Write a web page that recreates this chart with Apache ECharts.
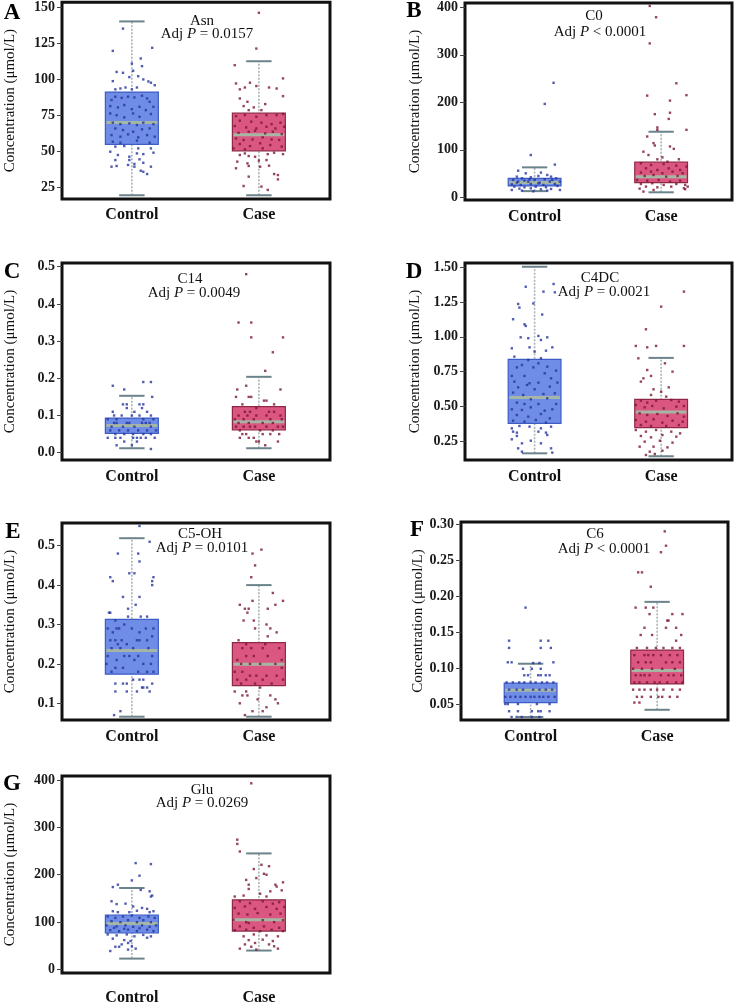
<!DOCTYPE html>
<html><head><meta charset="utf-8">
<script src="https://cdn.jsdelivr.net/npm/echarts@6/dist/echarts.min.js"></script>
<style>html,body{margin:0;padding:0;background:#fff}#c{width:735px;height:1006px}</style>
</head><body><div id="c"></div>
<script>
// ---------- DATA ----------
const categories = ['Control', 'Case'];
const panelLetters = ['A', 'B', 'C', 'D', 'E', 'F', 'G'];
const analytes = ['Asn', 'C0', 'C14', 'C4DC', 'C5-OH', 'C6', 'Glu'];
const pRelations = ['=', '<', '=', '=', '=', '<', '='];
const pValues = ['0.0157', '0.0001', '0.0049', '0.0021', '0.0101', '0.0001', '0.0269'];
const yAxisTitle = 'Concentration (μmol/L)';

const asnTicks = [25, 50, 75, 100, 125, 150];
const c0Ticks = [0, 100, 200, 300, 400];
const c14Ticks = [0, 0.1, 0.2, 0.3, 0.4, 0.5];
const c4dcTicks = [0.25, 0.5, 0.75, 1.0, 1.25, 1.5];
const c5ohTicks = [0.1, 0.2, 0.3, 0.4, 0.5];
const c6Ticks = [0.05, 0.10, 0.15, 0.20, 0.25, 0.30];
const gluTicks = [0, 100, 200, 300, 400];

// box statistics: [min, Q1, median, Q3, max]
const asnControlBox = [19.5, 54.8, 70, 91, 140];
const asnCaseBox = [19.5, 50.3, 61.5, 76.4, 112.4];
const c0ControlBox = [13, 24, 31, 40, 63];
const c0CaseBox = [10.5, 31, 43, 74, 138];
const c14ControlBox = [0.012, 0.052, 0.073, 0.093, 0.153];
const c14CaseBox = [0.012, 0.061, 0.083, 0.124, 0.204];
const c4dcControlBox = [0.161, 0.377, 0.562, 0.838, 1.504];
const c4dcCaseBox = [0.14, 0.346, 0.459, 0.55, 0.848];
const c5ohControlBox = [0.066, 0.174, 0.234, 0.313, 0.519];
const c5ohCaseBox = [0.066, 0.145, 0.199, 0.254, 0.4];
const c6ControlBox = [0.032, 0.052, 0.069, 0.079, 0.106];
const c6CaseBox = [0.042, 0.078, 0.0965, 0.125, 0.192];
const gluControlBox = [23, 77, 97, 115, 172];
const gluCaseBox = [40, 81, 105, 147, 245];

// individual points: [jitter offset from the group, value]
const asnControlPts = [[-0.07,135],[-0.15,119.6],[0.16,121.7],[-0.12,105],[-0.07,104.4],[0.01,105.8],[0,110.8],[0.07,114.3],[0.08,109],[0.05,102],[-0.02,101.4],[-0.15,98.6],[0.09,99.8],[0.13,98.4],[0.15,97.5],[0.18,95.8],[-0.13,92.9],[-0.09,93.5],[-0.05,94.2],[0,92.9],[0.04,94.2],
[-0.16,85.5],[-0.13,87.8],[-0.08,87],[-0.03,87.8],[0.02,87.3],[0.08,88.5],[0.12,86.6],[0.14,84.3],[-0.17,81.3],[-0.11,80.4],[-0.06,82],[0,79.2],[0.06,80.8],[0.11,78.5],[0.17,80.8],[-0.17,76.2],[-0.12,75],[-0.06,73.5],[0.01,76.2],[0.06,73.9],[0.15,75.8],[-0.15,69.8],[-0.09,68.8],[-0.02,69.3],[0.04,68.2],[0.09,69.8],[0.17,68.8],[-0.13,65.8],[-0.07,64.7],[0.01,63.5],[0.08,65.2],[0.14,65.8],[-0.16,61.2],[-0.09,60.1],[-0.03,61.7],[0.05,59.6],[0.12,61.2],[0.18,60.1],[-0.15,56.6],[-0.09,55.9],[0.04,57.3],[0.14,55.9],
[-0.17,49.7],[-0.13,53.2],[-0.06,53.6],[0.05,52],[0.15,52],[0.17,49],[-0.11,47.4],[-0.02,46.2],[0.04,48.5],[0.09,48],[-0.13,43.9],[-0.02,43.9],[0.06,44.4],[-0.16,39.3],[-0.12,39.8],[-0.03,40.5],[0.02,41.2],[0.02,39.3],[0.09,42],[0.15,39.3],[0.07,36.5],[0.09,35.8],[0.12,34.2]];
const asnCasePts = [[0,146],[-0.02,121.2],[-0.19,109.7],[0.19,100.5],[-0.18,97],[-0.07,97.5],[-0.11,94.2],[-0.02,95.2],[0.08,94.2],[0.14,93.5],[-0.15,92.9],[0.19,88.2],[-0.15,86.6],[-0.09,84.3],[-0.12,81.3],[-0.04,80.4],[0.05,82.7],[-0.08,78.5],[0.02,78.5],
[-0.18,74.4],[-0.11,75.1],[-0.02,73.9],[0.06,75.1],[0.14,75.1],[0.19,75.8],[-0.15,71.2],[-0.06,70.5],[0.02,69.8],[0.1,68.8],[0.17,69.8],[-0.19,67.5],[-0.1,66.5],[-0.02,65.8],[0.06,67],[0.13,65.8],[0.2,67],[-0.16,62.8],[-0.08,63.5],[-0.03,64.2],[0.05,62.4],[0.11,63.5],[0.18,61.9],[-0.18,58.9],[-0.12,57.8],[-0.05,58.2],[0.03,59.6],[0.1,58.2],[0.16,57.8],[-0.15,55],[-0.07,53.6],[0.01,55.5],[0.09,54.3],[0.18,53.2],[-0.2,52],[-0.11,51.3],[0.03,52],
[-0.11,48.5],[-0.08,46.7],[-0.15,47.4],[0.07,48],[0.12,49],[0.19,48],[-0.03,46.2],[-0.17,42.8],[0,43.5],[0.06,43.9],[-0.09,41.6],[-0.08,39.8],[-0.18,38.2],[0.01,39.3],[0.08,40],[0.12,34.2],[0.15,33.5],[0.15,30.5],[-0.08,32.4],[0.02,25.5],[0.07,23.2],[-0.12,25.9]];

const c0ControlPts = [[0.15,241],[0.08,196.5],[-0.03,89],[0.16,68.8],[-0.13,56],[-0.07,50.5],[0.05,52],[0.1,47],[0.03,44.9],[-0.14,43.5],[-0.1,40],[-0.03,42.1],[0.13,43.5],[0.17,40],[-0.17,36.5],[-0.08,35.1],[0,36.5],[0.08,37.9],[0.14,36.5],[-0.14,30.9],[-0.05,33],[0.04,30.9],[0.12,33],[0.2,33],[-0.18,27.4],[-0.11,26],[-0.03,28.1],[0.07,26],[0.16,28.1],[-0.16,22.5],[-0.08,21.1],[0.01,22.5],[0.09,21.1],[0.18,23.9],[-0.12,18.2],[-0.03,18.9],[0.05,16.8],[0.13,17.5],[-0.18,15.4],[-0.1,14],[-0.01,12.6],[0.1,14],[0.2,15.4],[0.03,29.5],[-0.13,33],[-0.04,37.9]];
const c0CasePts = [[-0.09,402.8],[-0.04,379],[-0.09,324],[0.12,240],[-0.11,214],[0.2,215],[0.07,203.5],[0.07,178],[-0.05,175],[0.06,165],[-0.03,147],[-0.03,142],[0.2,142],[-0.11,128],[-0.06,114],[-0.05,109],[0.07,107],[0.1,102],[-0.14,96],[-0.1,89],[0.01,84],[-0.03,80],[0.05,75],[0.14,80],[-0.16,71.6],[-0.08,68],[0.02,70],[0.12,66.7],[0.2,64.6],[-0.12,61],[-0.03,57.5],[0.06,61],[0.15,57.5],[-0.16,52],[-0.08,54],[0.01,50.5],[0.09,54],[0.17,50.5],[-0.13,45],[-0.06,47],[0.04,43.5],[0.13,45],[-0.19,36.5],[-0.11,35],[-0.02,36.5],[0.07,33],[0.15,35],[-0.16,28],[-0.07,29.5],[0.02,26],[0.12,28],[0.19,26],[-0.12,22.5],[-0.03,21],[0.08,22.5],[0.18,19],[0.21,22.5],[-0.17,18.2],[-0.14,12],[-0.06,15.4],[0.19,17]];

const c14ControlPts = [[-0.15,0.18],[-0.06,0.17],[0.09,0.19],[0.15,0.19],[0.16,0.15],[-0.07,0.13],[-0.04,0.13],[-0.04,0.12],[0.06,0.13],[0.08,0.12],[0.09,0.13],[-0.15,0.11],[0.02,0.11],[0.12,0.11],[-0.08,0.1],[-0.14,0.1],[0,0.1],[0.06,0.1],[0.15,0.1],[-0.19,0.09],[-0.12,0.09],[0.09,0.09],[0.17,0.09],[-0.14,0.08],[-0.12,0.08],[-0.04,0.08],[-0.02,0.08],[0.08,0.08],[0.11,0.08],[0.14,0.08],[-0.16,0.07],[-0.07,0.07],[0.02,0.07],[0.15,0.07],[-0.17,0.06],[-0.1,0.06],[-0.03,0.06],[0.05,0.06],[0.12,0.06],[0.19,0.06],[-0.13,0.05],[-0.06,0.05],[0.01,0.05],[0.09,0.05],[0.15,0.05],[-0.19,0.04],[-0.13,0.04],[-0.09,0.04],[0.01,0.04],[0.04,0.04],[0.07,0.04],[0.11,0.04],[0.18,0.04],[-0.06,0.03],[0.04,0.03],[-0.12,0.02],[0,0.02],[0.15,0.01]];
const c14CasePts = [[-0.1,0.48],[-0.16,0.35],[-0.06,0.35],[-0.06,0.31],[0.19,0.31],[0.11,0.27],[0.05,0.22],[-0.1,0.18],[-0.17,0.17],[0.17,0.17],[-0.06,0.15],[-0.18,0.15],[-0.08,0.15],[0.04,0.14],[0.06,0.14],[0.12,0.13],[-0.13,0.13],[-0.02,0.12],[-0.11,0.11],[-0.07,0.11],[0.08,0.11],[0.12,0.11],[-0.16,0.1],[-0.09,0.1],[-0.02,0.1],[0.06,0.1],[0.17,0.1],[-0.19,0.09],[-0.12,0.09],[-0.04,0.09],[0.09,0.09],[0.18,0.09],[-0.16,0.08],[-0.08,0.08],[0.03,0.08],[0.11,0.08],[-0.18,0.07],[-0.12,0.07],[-0.07,0.07],[-0.03,0.07],[0.06,0.07],[0.15,0.07],[0.19,0.07],[-0.15,0.06],[0.01,0.06],[0.11,0.06],[-0.13,0.05],[-0.1,0.05],[0.03,0.05],[0.09,0.05],[0.16,0.05],[-0.15,0.04],[-0.08,0.04],[-0.04,0.04],[0,0.03],[0.15,0.03],[0.05,0.02],[-0.02,0.03]];

const c4dcControlPts = [[-0.07,1.36],[0.15,1.38],[0.16,1.32],[0.07,1.325],[-0.01,1.24],[-0.13,1.236],[-0.12,1.21],[0.06,1.16],[-0.17,1.126],[-0.08,1.09],[-0.07,1.078],[0.03,1.006],[0.1,0.996],[-0.11,0.996],[-0.05,0.99],[0.05,0.977],[-0.18,0.917],[-0.04,0.924],[0.14,0.924],[0,0.893],[0.09,0.9],[-0.16,0.857],[-0.05,0.833],[0.05,0.845],
[0.03,0.809],[-0.14,0.78],[-0.1,0.797],[-0.01,0.78],[0.1,0.785],[0.17,0.756],[-0.18,0.718],[-0.08,0.718],[0.08,0.737],[0.13,0.701],[-0.16,0.677],[-0.04,0.665],[0.03,0.67],[0.18,0.67],[-0.13,0.636],[-0.06,0.653],[0,0.622],[0.12,0.641],[-0.17,0.598],[-0.09,0.581],[0.07,0.588],[0.16,0.593],[-0.03,0.55],[0.1,0.557],[-0.14,0.526],[-0.08,0.516],[0.03,0.516],[0.17,0.516],[-0.18,0.478],[-0.1,0.473],[-0.03,0.492],[0.08,0.468],[0.14,0.478],[-0.14,0.437],[-0.05,0.425],[0.05,0.444],[0.12,0.413],[-0.17,0.396],[-0.08,0.389],[0.01,0.401],[0.09,0.382],
[-0.18,0.341],[-0.12,0.358],[-0.04,0.353],[0.05,0.341],[0.13,0.353],[-0.17,0.317],[-0.14,0.31],[0.03,0.317],[0.09,0.31],[-0.14,0.286],[0.1,0.293],[-0.18,0.262],[-0.03,0.252],[-0.1,0.233],[0.05,0.233],[-0.13,0.197],[0.13,0.197],[0.14,0.166],[-0.1,0.173]];
const c4dcCasePts = [[0.18,1.325],[0,1.217],[-0.12,1.054],[-0.2,0.934],[-0.11,0.924],[-0.04,0.934],[0.18,0.934],[-0.18,0.845],[0.03,0.809],[-0.11,0.761],[0.09,0.749],[-0.08,0.718],[-0.14,0.701],[0.06,0.636],[-0.06,0.622],[-0.16,0.677],[0,0.605],[-0.08,0.581],
[0.04,0.569],[-0.16,0.54],[-0.11,0.526],[-0.04,0.54],[0.08,0.545],[0.14,0.533],[-0.2,0.509],[-0.13,0.492],[-0.07,0.502],[0.02,0.485],[0.12,0.497],[0.18,0.502],[-0.17,0.449],[-0.11,0.437],[-0.03,0.444],[0.05,0.43],[0.13,0.449],[0.18,0.425],[-0.2,0.401],[-0.12,0.389],[-0.06,0.406],[0.01,0.382],[0.09,0.396],[0.17,0.389],[-0.16,0.365],[-0.08,0.358],[0.04,0.358],[0.14,0.365],
[-0.2,0.329],[-0.12,0.317],[-0.04,0.329],[0.08,0.317],[0.15,0.305],[-0.16,0.286],[-0.08,0.276],[0.01,0.293],[0.12,0.281],[-0.13,0.245],[-0.01,0.252],[0.09,0.238],[-0.17,0.209],[-0.06,0.209],[0.05,0.204],[-0.09,0.173],[0.01,0.18],[-0.12,0.149],[-0.05,0.156]];

const c5ohControlPts = [[0.06,0.55],[0.14,0.51],[-0.11,0.48],[0.05,0.48],[0.06,0.46],[-0.02,0.43],[0.02,0.43],[-0.17,0.42],[0.17,0.42],[-0.15,0.41],[0.16,0.41],[0.16,0.4],[-0.07,0.37],[0.06,0.37],[0.03,0.35],[-0.03,0.34],[-0.18,0.33],[-0.17,0.33],[0.07,0.32],[-0.03,0.32],[0.12,0.32],
[-0.13,0.31],[-0.06,0.3],[-0.19,0.29],[-0.12,0.29],[-0.1,0.29],[0,0.29],[0.11,0.29],[0.17,0.29],[-0.15,0.28],[0.06,0.28],[0.16,0.27],[-0.17,0.26],[-0.13,0.26],[-0.08,0.26],[0.04,0.26],[0.06,0.26],[0.12,0.26],[-0.11,0.25],[-0.04,0.25],[-0.16,0.24],[-0.09,0.24],[0.01,0.24],[0.13,0.24],[-0.19,0.22],[-0.06,0.22],[-0.02,0.22],[0.05,0.22],[0.16,0.22],[-0.12,0.21],[0.02,0.21],[0.09,0.2],[0.15,0.2],[-0.2,0.2],[-0.13,0.19],[-0.07,0.19],[0.05,0.18],[-0.16,0.18],[0.12,0.18],[0.17,0.18],
[0.01,0.16],[0.06,0.16],[0.09,0.16],[-0.07,0.15],[-0.04,0.15],[-0.13,0.15],[0.16,0.15],[0.08,0.14],[0.09,0.14],[0.12,0.14],[-0.13,0.13],[-0.04,0.13],[0.04,0.13],[0.14,0.13],[-0.09,0.08],[-0.14,0.07]];
const c5ohCasePts = [[0.02,0.49],[-0.05,0.48],[-0.03,0.45],[-0.06,0.42],[-0.05,0.36],[0.19,0.36],[0.11,0.38],[-0.15,0.35],[0.13,0.35],[-0.11,0.34],[-0.08,0.34],[0.07,0.34],[-0.09,0.33],[-0.04,0.31],[-0.12,0.31],[0.06,0.3],[-0.03,0.29],[0.09,0.29],[0.14,0.28],[0.07,0.27],[-0.16,0.26],
[-0.1,0.25],[0.05,0.25],[-0.13,0.24],[-0.06,0.24],[0.03,0.24],[0.16,0.24],[-0.1,0.22],[-0.04,0.22],[0.07,0.22],[0.18,0.21],[-0.17,0.21],[0.01,0.2],[-0.14,0.2],[-0.07,0.2],[0.13,0.2],[0.18,0.19],[-0.19,0.18],[-0.13,0.18],[-0.02,0.17],[0.06,0.17],[0.14,0.17],[-0.07,0.17],[-0.17,0.16],[-0.1,0.16],[0.03,0.16],[0.19,0.16],[-0.14,0.15],[-0.03,0.15],[0.1,0.15],
[0.01,0.14],[-0.19,0.13],[-0.1,0.13],[-0.13,0.12],[-0.09,0.12],[0.09,0.12],[0.13,0.11],[-0.01,0.11],[-0.15,0.1],[0.15,0.1],[0.06,0.09],[-0.05,0.08],[0.03,0.08],[-0.11,0.07]];

const c6ControlPts = [[-0.04,0.184],[-0.17,0.138],[0.08,0.138],[0.14,0.138],[-0.17,0.128],[0.08,0.128],[0.16,0.128],[-0.18,0.108],[-0.15,0.108],[0.02,0.107],[0.07,0.107],[0.18,0.108],[-0.06,0.099],[0.01,0.099],[0.08,0.099],[-0.05,0.09],[-0.02,0.09],[0.06,0.09],[0.08,0.09],[0.12,0.09],[0.15,0.09],
[-0.19,0.08],[-0.14,0.08],[-0.09,0.08],[-0.05,0.08],[0,0.08],[0.04,0.08],[0.09,0.08],[0.13,0.08],[0.18,0.08],
[-0.17,0.07],[-0.11,0.07],[-0.06,0.07],[0.02,0.07],[0.07,0.07],[0.12,0.07],[0.17,0.07],
[-0.2,0.06],[-0.16,0.06],[-0.12,0.06],[-0.08,0.06],[-0.04,0.06],[0,0.06],[0.03,0.06],[0.07,0.06],[0.1,0.06],[0.14,0.06],[0.19,0.06],
[-0.18,0.05],[-0.1,0.05],[0.05,0.05],[0.15,0.05],[-0.2,0.05],
[-0.17,0.04],[-0.1,0.04],[0.01,0.04],[0.06,0.04],[0.08,0.04],[0.15,0.04],
[-0.15,0.032],[-0.11,0.032],[-0.07,0.032],[0.01,0.032],[0.07,0.032]];
const c6CasePts = [[0.06,0.29],[0.07,0.27],[0.03,0.261],[-0.15,0.233],[-0.12,0.233],[-0.05,0.213],[-0.17,0.184],[-0.09,0.184],[-0.03,0.184],[-0.06,0.175],[0.12,0.175],[0.2,0.175],[0.08,0.166],[0.09,0.166],[-0.1,0.156],[0.07,0.156],[0.15,0.156],[-0.13,0.146],[-0.04,0.146],[0.19,0.146],[0.15,0.138],
[-0.16,0.128],[-0.08,0.128],[-0.01,0.128],[0.05,0.128],[0.12,0.128],[0.18,0.128],
[-0.18,0.118],[-0.1,0.118],[-0.07,0.118],[-0.03,0.118],[0.03,0.118],[0.1,0.118],[0.16,0.118],
[-0.15,0.108],[-0.09,0.108],[-0.05,0.108],[0.07,0.108],[0.12,0.108],[0.18,0.108],
[-0.19,0.099],[-0.12,0.099],[-0.04,0.099],[0.04,0.099],[0.14,0.099],
[-0.17,0.09],[-0.13,0.09],[-0.1,0.09],[-0.06,0.09],[0.03,0.09],[0.09,0.09],[0.13,0.09],[0.19,0.09],
[-0.18,0.08],[-0.14,0.08],[-0.08,0.08],[-0.02,0.08],[0.02,0.08],[0.08,0.08],[0.15,0.08],[0.2,0.08],
[-0.19,0.07],[-0.14,0.07],[-0.1,0.07],[-0.05,0.07],[0,0.07],[0.05,0.07],[0.12,0.07],[0.18,0.07],
[-0.16,0.06],[-0.12,0.06],[-0.05,0.06],[0.01,0.06],[0.04,0.06],[0.1,0.06],[0.16,0.06],
[-0.18,0.052],[-0.14,0.052]];

const gluControlPts = [[0.03,224.6],[0.15,222.5],[0.06,198],[0,188],[-0.11,179],[-0.15,174],[0.07,168],[0.14,165],[-0.16,144],[0.15,154],[0.16,156],[-0.05,139],[-0.12,138],[0.01,133],[0.08,130],[0.12,128],[-0.15,123],[-0.11,121],[-0.02,121],[0.04,124],[0.14,121],[0.17,123],
[-0.19,112],[-0.13,109],[-0.07,112],[0,114],[0.06,109],[0.13,112],[0.18,109],[-0.16,102],[-0.09,100],[-0.03,104],[0.04,100],[0.09,104],[0.15,100],[-0.2,93],[-0.12,91],[-0.05,93],[0.01,90],[0.08,93],[0.14,90],[0.19,93],[-0.17,83],[-0.1,81],[-0.03,84],[0.04,81],[0.12,84],[0.17,81],[-0.14,88],[-0.06,86],[0.06,87],
[-0.19,74],[-0.12,72],[-0.04,74],[0.02,70],[0.09,73],[0.15,70],[0.12,67],[-0.15,65],[-0.06,62],[-0.01,60],[-0.03,56],[-0.08,53],[0,49],[-0.13,48],[-0.1,48],[0.03,44],[-0.17,39],[-0.03,42]];
const gluCasePts = [[-0.06,393],[-0.17,274],[-0.17,265],[-0.15,249],[0.02,221],[0.08,218],[-0.04,212],[0.04,202],[0.06,200],[-0.1,189],[-0.02,193],[0.19,184],[0.13,179],[0.14,175],[-0.08,179],[-0.08,170],[0.09,165],[0.18,167],[0.01,160],[-0.12,156],[-0.19,154],[0.06,154],
[-0.15,144],[-0.07,140],[0.03,144],[0.11,139],[0.16,142],[-0.19,130],[-0.11,133],[-0.03,128],[0.06,132],[0.14,128],[0.2,132],[-0.16,118],[-0.09,116],[-0.01,119],[0.09,116],[0.17,118],[-0.2,105],[-0.1,100],[-0.08,98],[0.03,104],[0.12,100],[0.19,104],[-0.15,91],[-0.04,88],[0.04,91],[0.16,88],[-0.19,83],[-0.1,84],[0.01,81],[0.1,84],[0.19,81],
[-0.12,70],[-0.04,74],[0.06,72],[0.15,70],[-0.08,62],[0.03,63],[0.11,60],[-0.11,53],[-0.03,56],[0.08,53],[-0.06,48],[-0.15,44],[0.12,49],[0.15,44],[-0.02,42]];

// ---------- ASSEMBLY ----------
const panelTicks = [asnTicks, c0Ticks, c14Ticks, c4dcTicks, c5ohTicks, c6Ticks, gluTicks];
const panelBoxes = [[asnControlBox, asnCaseBox],[c0ControlBox, c0CaseBox],[c14ControlBox, c14CaseBox],[c4dcControlBox, c4dcCaseBox],[c5ohControlBox, c5ohCaseBox],[c6ControlBox, c6CaseBox],[gluControlBox, gluCaseBox]];
const panelPts = [[asnControlPts, asnCasePts],[c0ControlPts, c0CasePts],[c14ControlPts, c14CasePts],[c4dcControlPts, c4dcCasePts],[c5ohControlPts, c5ohCasePts],[c6ControlPts, c6CasePts],[gluControlPts, gluCasePts]];

// layout (pixels) and axis ranges
const LAYOUT = [
  {grid:[62,2,268,197],   y:[16.9,153.3],   dec:0, xm:8,  nameX:10,  letter:[12,13],  t1:[202,21],  t2:[207,34]},
  {grid:[465,3,267,197],  y:[-5.7,409],     dec:0, xm:9,  nameX:415, letter:[414,11], t1:[594,16],  t2:[600,32]},
  {grid:[62,263,268,197], y:[-0.0196,0.51], dec:1, xm:9,  nameX:10,  letter:[12,272], t1:[190,279], t2:[194,293]},
  {grid:[465,263,267,197],y:[0.113,1.531],  dec:2, xm:9,  nameX:415, letter:[414,272],t1:[600,278], t2:[604,292]},
  {grid:[62,523,268,197], y:[0.0576,0.5576],dec:1, xm:9,  nameX:10,  letter:[13,532], t1:[200,534], t2:[202,548]},
  {grid:[461,522,267,198],y:[0.0278,0.303], dec:2, xm:9,  nameX:418, letter:[417,530],t1:[595,534], t2:[604,549]},
  {grid:[62,776,268,198], y:[-7.4,408.4],   dec:0, xm:17, nameX:10,  letter:[12,784], t1:[202,790], t2:[202,803]}
];
const X_RANGE = [-0.55, 1.56];
const BOX_W = 0.417, CAP_W = 0.2;
const SERIF = 'Liberation Serif';
const FILL = ['#6f8de6', '#db5782'];
const EDGE = ['#3d5cc4', '#8e2846'];
const DOT = ['#25359e', '#7a1732'];

function renderBox(params, api) {
  const x = api.value(0);
  const lo = api.coord([x, api.value(1)]);
  const q1 = api.coord([x, api.value(2)]);
  const md = api.coord([x, api.value(3)]);
  const q3 = api.coord([x, api.value(4)]);
  const hi = api.coord([x, api.value(5)]);
  const w = api.size([BOX_W, 0])[0];
  const cw = api.size([CAP_W, 0])[0];
  const g = Math.round(x);
  const cx = lo[0];
  return {type:'group', children:[
    {type:'line', shape:{x1:cx, y1:lo[1], x2:cx, y2:hi[1]}, style:{stroke:'#a8b2b6', lineWidth:1.6, lineDash:[2,1.5]}},
    {type:'line', shape:{x1:cx-cw/2, y1:hi[1], x2:cx+cw/2, y2:hi[1]}, style:{stroke:'#6b838b', lineWidth:2}},
    {type:'line', shape:{x1:cx-cw/2, y1:lo[1], x2:cx+cw/2, y2:lo[1]}, style:{stroke:'#6b838b', lineWidth:2}},
    {type:'rect', shape:{x:cx-w/2, y:q3[1], width:w, height:q1[1]-q3[1]}, style:{fill:FILL[g], stroke:EDGE[g], lineWidth:1.2}},
    {type:'line', shape:{x1:cx-w/2+1, y1:md[1], x2:cx+w/2-1, y2:md[1]}, style:{stroke:'#a6b6a4', lineWidth:3}}
  ]};
}

const grids = [], xAxes = [], yAxes = [], series = [], graphics = [];
LAYOUT.forEach((L, i) => {
  grids.push({left:L.grid[0], top:L.grid[1], width:L.grid[2], height:L.grid[3], show:true, borderColor:'#111', borderWidth:3, backgroundColor:'transparent'});
  xAxes.push({type:'value', gridIndex:i, min:X_RANGE[0], max:X_RANGE[1], position:'bottom',
    axisLine:{show:false, onZero:false}, axisTick:{show:false}, splitLine:{show:false},
    axisLabel:{customValues:[0,1], formatter:v => categories[Math.round(v)], margin:L.xm,
      fontFamily:SERIF, fontWeight:'bold', fontSize:16, color:'#111'}});
  const ticks = panelTicks[i];
  yAxes.push({type:'value', gridIndex:i, min:L.y[0], max:L.y[1], position:'left',
    axisLine:{show:false, onZero:false}, splitLine:{show:false},
    axisTick:{show:true, customValues:ticks, length:5, lineStyle:{color:'#444', width:1}},
    axisLabel:{customValues:ticks, formatter:v => v.toFixed(L.dec), margin:7,
      fontFamily:SERIF, fontWeight:'bold', fontSize:14, color:'#1a1a1a'},
    name:yAxisTitle, nameLocation:'middle', nameGap:L.grid[0]-L.nameX-8,
    nameTextStyle:{fontFamily:SERIF, fontSize:15, color:'#111'}});
  const boxes = panelBoxes[i];
  series.push({type:'custom', xAxisIndex:i, yAxisIndex:i, renderItem:renderBox, silent:true, z:2,
    encode:{x:0, y:[1,2,3,4,5]},
    data:[[0].concat(boxes[0]), [1].concat(boxes[1])]});
  [0,1].forEach(g => {
    series.push({type:'scatter', xAxisIndex:i, yAxisIndex:i, silent:true, z:3,
      symbol:'rect', symbolSize:2.4, itemStyle:{color:DOT[g]},
      data:panelPts[i][g].map(p => [g + p[0], p[1]])});
  });
  graphics.push({type:'text', x:L.letter[0], y:L.letter[1], style:{text:panelLetters[i], fontFamily:SERIF, fontWeight:'bold', fontSize:23, fill:'#000', align:'center', verticalAlign:'middle'}});
  graphics.push({type:'text', x:L.t1[0], y:L.t1[1], style:{text:analytes[i], fontFamily:SERIF, fontSize:15, fill:'#111', align:'center', verticalAlign:'middle'}});
  graphics.push({type:'text', x:L.t2[0], y:L.t2[1], style:{text:'{n|Adj }{i|P}{n| ' + pRelations[i] + ' ' + pValues[i] + '}',
    rich:{n:{fontFamily:SERIF, fontSize:15, fill:'#111'}, i:{fontFamily:SERIF, fontSize:15, fontStyle:'italic', fill:'#111'}},
    align:'center', verticalAlign:'middle'}});
});

const chart = echarts.init(document.getElementById('c'), null, {renderer:'canvas'});
chart.setOption({animation:false, backgroundColor:'#fff', grid:grids, xAxis:xAxes, yAxis:yAxes, series:series, graphic:graphics});
</script></body></html>
